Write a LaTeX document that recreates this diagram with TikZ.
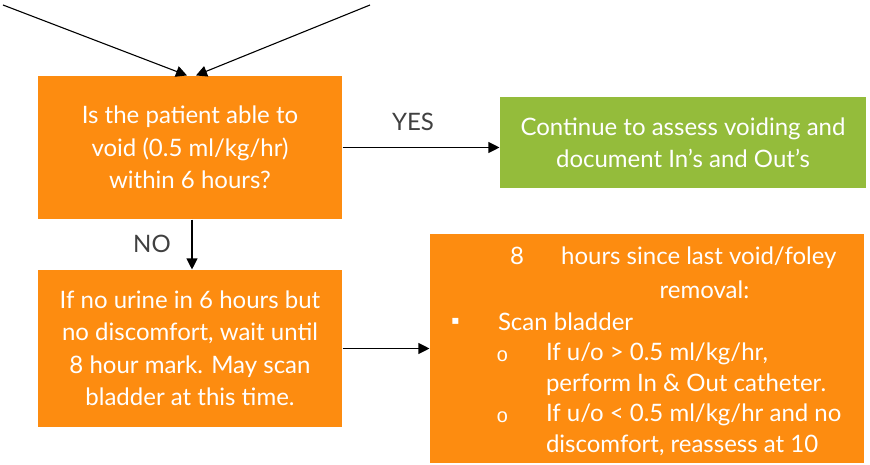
\documentclass[tikz,border=0pt]{standalone}
\usepackage{fontspec}
\setmainfont{Lato}
\newfontfamily\symfont{DejaVu Sans}
\newfontfamily\bulletfont{Liberation Mono}
\usetikzlibrary{arrows.meta,positioning}
\definecolor{flowOrange}{HTML}{FD8C10}
\definecolor{flowGreen}{HTML}{94BC3B}
\definecolor{labelGray}{HTML}{404040}

\begin{document}
\begin{tikzpicture}[
    x=1pt, y=-1pt,
    stepbox/.style={fill=flowOrange, text=white, align=center, inner sep=0pt,
        font=\fontsize{24}{32.5}\selectfont},
    donebox/.style={stepbox, fill=flowGreen},
    boxtext/.style={text=white, inner sep=0pt, font=\fontsize{24}{30.5}\selectfont},
    ringmark/.style={text=white, inner sep=0pt, font=\bulletfont\fontsize{20}{20}\selectfont},
    branch/.style={text=labelGray, font=\fontsize{24}{28}\selectfont},
    >={Triangle[length=11pt,width=11pt]},
    line width=1.1pt
]
\useasboundingbox (0,0) rectangle (870,465);

\node[stepbox, minimum width=304pt, minimum height=143pt] (ask) at (190,147.5)
    {Is the patient able to\\void (0.5 ml/kg/hr)\\within 6 hours?};
\node[donebox, minimum width=366pt, minimum height=91pt] (assess) at (683,143)
    {Continue to assess voiding and\\document In’s and Out’s};
\node[stepbox, minimum width=304pt, minimum height=157pt] (wait) at (190,348.5)
    {If no urine in 6 hours but\\no discomfort, wait until\\8 hour mark. May scan\\bladder at this time.};
\node[stepbox, minimum width=434pt, minimum height=229pt] (scan) at (647,348.5) {};

% Text inside the 8 hour box
\node[boxtext, anchor=west] (hdr)  at ([xshift=80pt,yshift=-24pt]scan.north west)
    {8\hspace{1.55em}hours since last void/foley};
\node[boxtext] (rem) at ([xshift=275pt,yshift=-56pt]scan.north west) {removal:};
\node[boxtext, font=\symfont\fontsize{12}{12}\selectfont] (sq) at ([xshift=26pt,yshift=-88pt]scan.north west) {▪};
\node[boxtext, anchor=west] (sb) at ([xshift=68pt,yshift=-88pt]scan.north west) {Scan bladder};
\node[ringmark] (oa) at ([xshift=73pt,yshift=-123pt]scan.north west) {o};
\node[ringmark] (ob) at ([xshift=73pt,yshift=-184pt]scan.north west) {o};
\node[boxtext, anchor=west, align=left] (subs) at ([xshift=116pt,yshift=-166pt]scan.north west)
    {If u/o > 0.5 ml/kg/hr,\\perform In \& Out catheter.\\If u/o < 0.5 ml/kg/hr and no\\discomfort, reassess at 10};

% Incoming arrows
\coordinate (inL) at (3,5);
\coordinate (inR) at (370,5);
\draw[->] (inL) -- ([xshift=-3pt]ask.north);
\draw[->] (inR) -- ([xshift=6pt]ask.north);

% Branches
\draw[->] (ask.east) -- (ask.east -| assess.west);
\node[branch] (yes) at (413,122) {YES};
\draw[->] ([xshift=2pt]ask.south) -- ([xshift=2pt]wait.north);
\node[branch] (no) at (152,244) {NO};
\draw[->] (wait) -- (scan);
\end{tikzpicture}
\end{document}
